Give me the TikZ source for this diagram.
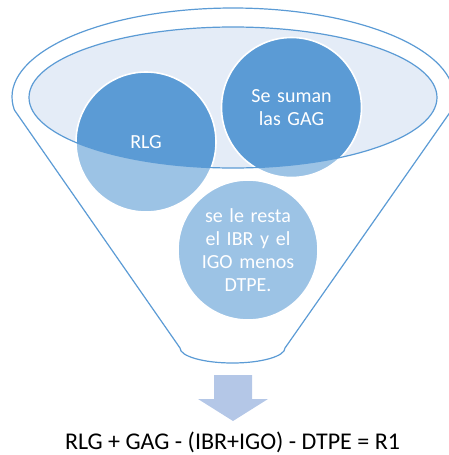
\documentclass[tikz,border=0pt]{standalone}
\usepackage{fontspec}
\setmainfont{Carlito}
\usepackage{tikz}
\usetikzlibrary{positioning}
\definecolor{accent}{RGB}{91,155,213}
\definecolor{topfill}{RGB}{228,236,247}
\definecolor{arrowfill}{RGB}{180,199,231}
\tikzset{
  fn_circle/.style={circle,minimum size=140pt,inner sep=0pt,fill=accent,draw=white,line width=1.6pt,
    text=white,text width=112pt,align=center,font=\fontsize{20}{23}\selectfont},
  fn_body/.style={draw=accent,line width=1.2pt,fill=white,fill opacity=0.4,even odd rule},
  fn_result/.style={anchor=base,font=\fontsize{24}{28}\selectfont},
}

\begin{document}
\begin{tikzpicture}[x=1pt,y=-1pt]
  \useasboundingbox (0,0) rectangle (449,455);
  % top surface of the funnel
  \fill[topfill] (233,97.5) ellipse [x radius=204,y radius=70.5];
  \node (rlg)  [fn_circle] at (146,142)     {RLG};
  \node (gag)  [fn_circle] at (291.5,107.5) {Se suman\\las GAG};
  \node (rest) [fn_circle] at (248,250)     {se le resta\\el IBR y el\\IGO menos\\DTPE.};
  % funnel body, lightens what lies below the top surface
  \path[fn_body] (14.4,110) arc[start angle=171.6,end angle=368.4,x radius=221,y radius=89]
    -- (285,348) arc[start angle=0,end angle=180,x radius=52.5,y radius=15] -- cycle
    (233,97.5) ellipse [x radius=204,y radius=70.5];
  % block arrow
  \fill[arrowfill] (214,375) -- (252,375) -- (252,399) -- (268,399) -- (233,421)
    -- (198,399) -- (214,399) -- cycle;
  \node (res) [fn_result] at (232.5,449) {RLG + GAG - (IBR+IGO) - DTPE = R1};
\end{tikzpicture}
\end{document}
